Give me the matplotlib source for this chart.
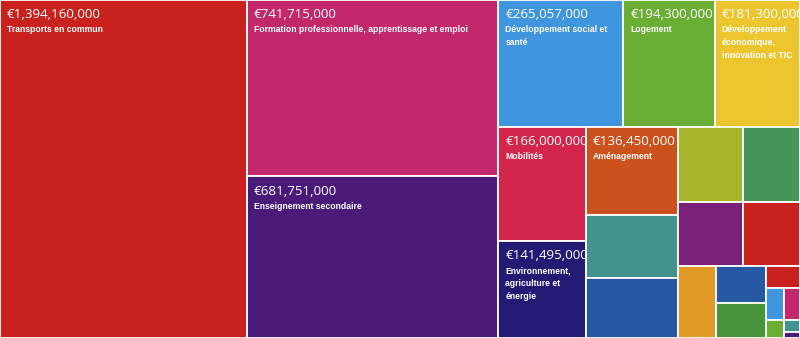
import matplotlib
matplotlib.use("Agg")
import matplotlib.pyplot as plt
from matplotlib.patches import Rectangle
from matplotlib.font_manager import FontProperties

# budget lines, largest first (unnamed lines are too small to carry a label)
names = [
    "Transports en commun",
    "Formation professionnelle, apprentissage et emploi",
    "Enseignement secondaire",
    "Développement social et santé",
    "Logement",
    "Développement économique, innovation et TIC",
    "Mobilités",
    "Environnement, agriculture et énergie",
    "Aménagement",
    "", "", "", "", "", "", "", "", "", "", "", "", "", "", "",
]
amounts = [
    1394160000, 741715000, 681751000, 265057000, 194300000, 181300000,
    166000000, 141495000, 136450000, 98500000, 93000000, 80800000,
    72000000, 69000000, 60300000, 45500000, 31300000, 28900000,
    12600000, 9700000, 8600000, 5500000, 3200000, 1600000,
]
colors = [
    "#c9221e", "#c2286a", "#4a1a78", "#4095df", "#6aae34", "#edc62f",
    "#d4264a", "#231a74", "#cc521d", "#42928e", "#2658a4", "#a8b42a",
    "#469558", "#7b2078", "#c9221e", "#e19928", "#2658a4", "#47943a",
    "#c9221e", "#4095df", "#c2286a", "#6aae34", "#42928e", "#4a1a78",
]

W, H = 800, 338


def worst(row, length):
    s = sum(row)
    return max(max(length * length * r / (s * s), s * s / (length * length * r)) for r in row)


def squarify(sizes, x, y, dx, dy):
    if not sizes:
        return []
    if len(sizes) == 1:
        return [(x, y, dx, dy)]
    side = min(dx, dy)
    i = 1
    while i < len(sizes) and worst(sizes[:i], side) >= worst(sizes[:i + 1], side):
        i += 1
    row, rest = sizes[:i], sizes[i:]
    s = sum(row)
    rects = []
    if dx >= dy:
        w = s / dy
        yy = y
        for r in row:
            rects.append((x, yy, w, r / w))
            yy += r / w
        return rects + squarify(rest, x + w, y, dx - w, dy)
    h = s / dx
    xx = x
    for r in row:
        rects.append((xx, y, r / h, h))
        xx += r / h
    return rects + squarify(rest, x, y + h, dx, dy - h)


total = sum(amounts)
areas = [a * W * H / total for a in amounts]
rects = squarify(areas, 0, 0, W, H)

fig = plt.figure(figsize=(8, 3.38), dpi=100)
ax = fig.add_axes([0, 0, 1, 1])
ax.set_xlim(0, W)
ax.set_ylim(H, 0)
ax.axis("off")

renderer = fig.canvas.get_renderer()
label_font = FontProperties(family="Liberation Sans", weight="bold", size=6.2)


def wrap(text, width):
    lines, cur = [], ""
    for word in text.split():
        trial = (cur + " " + word).strip()
        tw, _, _ = renderer.get_text_width_height_descent(trial, label_font, ismath=False)
        if cur and tw > width:
            lines.append(cur)
            cur = word
        else:
            cur = trial
    lines.append(cur)
    return "\n".join(lines)


for (x, y, w, h), name, amt, col in zip(rects, names, amounts, colors):
    patch = Rectangle((x, y), w, h, facecolor=col, edgecolor="white", linewidth=1.3)
    ax.add_patch(patch)
    if not name:
        continue
    t1 = ax.text(x + 7, y + 15, f"€{amt:,}", color="white", family="Open Sans",
                 fontsize=9.6, va="center", ha="left")
    t1.set_clip_path(patch)
    t2 = ax.text(x + 7, y + 25.5, wrap(name, w - 14), color="white",
                 fontproperties=label_font, va="top", ha="left", linespacing=1.55)
    t2.set_clip_path(patch)

fig.savefig("out.png", dpi=100)
